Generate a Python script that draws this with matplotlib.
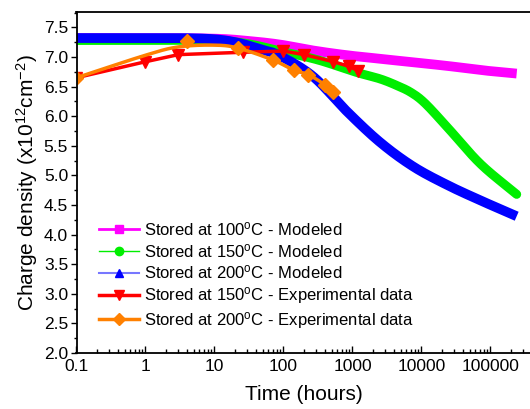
import numpy as np
import matplotlib
matplotlib.use("Agg")
import matplotlib.pyplot as plt
from matplotlib.lines import Line2D
from matplotlib.ticker import MultipleLocator, FixedLocator, LogLocator, NullFormatter

plt.rcParams['font.family'] = ['Liberation Sans', 'DejaVu Sans']
plt.rcParams['mathtext.fontset'] = 'custom'
plt.rcParams['mathtext.rm'] = 'Liberation Sans'
plt.rcParams['mathtext.it'] = 'Liberation Sans'

# modeled curves (log10 of time in hours, charge density)
mag_logt = [-1, 0, 1, 1.5, 1.95, 2.43, 2.92, 3.40, 3.88, 4.37, 4.85, 5.38]
mag_v = [7.32, 7.32, 7.31, 7.27, 7.21, 7.11, 7.03, 6.97, 6.91, 6.85, 6.78, 6.72]

grn_logt = [-1, 0, 1, 1.5, 1.95, 2.5, 3.06, 3.40, 3.64, 3.85, 4.05, 4.37, 4.85, 5.38]
grn_v = [7.28, 7.28, 7.28, 7.22, 7.10, 6.95, 6.74, 6.63, 6.52, 6.40, 6.22, 5.82, 5.20, 4.68]

blu_logt = [-1, 0, 0.5, 1, 1.34, 1.7, 1.95, 2.43, 2.92, 3.40, 3.88, 4.37, 4.85, 5.38]
blu_v = [7.32, 7.32, 7.32, 7.30, 7.24, 7.12, 7.02, 6.67, 6.08, 5.56, 5.15, 4.84, 4.58, 4.31]

# experimental data
red_t = [0.1, 1, 3, 26, 100, 200, 530, 900, 1200]
red_v = [6.65, 6.92, 7.04, 7.08, 7.10, 7.04, 6.92, 6.84, 6.77]

org_t = [0.1, 4, 22, 70, 140, 230, 400, 530]
org_v = [6.65, 7.27, 7.15, 6.95, 6.78, 6.70, 6.53, 6.41]
# smoothed line through the 200C data
org_line_t = [0.1, 1, 3, 10, 22, 70, 140, 230, 400, 530]
org_line_v = [6.65, 7.03, 7.17, 7.20, 7.15, 6.95, 6.78, 6.70, 6.53, 6.41]

labels = ["Stored at 100$^{o}$C - Modeled",
          "Stored at 150$^{o}$C - Modeled",
          "Stored at 200$^{o}$C - Modeled",
          "Stored at 150$^{o}$C - Experimental data",
          "Stored at 200$^{o}$C - Experimental data"]

# catmull-rom curve through the read points, drawn in log-time
def smooth(logt, v, n=30):
    p = np.column_stack([logt, v]).astype(float)
    p = np.vstack([2 * p[0] - p[1], p, 2 * p[-1] - p[-2]])
    out = []
    s = np.linspace(0, 1, n, endpoint=False)[:, None]
    for i in range(1, len(p) - 2):
        p0, p1, p2, p3 = p[i - 1], p[i], p[i + 1], p[i + 2]
        out.append(0.5 * (2 * p1 + (-p0 + p2) * s + (2 * p0 - 5 * p1 + 4 * p2 - p3) * s ** 2
                          + (-p0 + 3 * p1 - 3 * p2 + p3) * s ** 3))
    out.append(p[-2][None, :])
    out = np.vstack(out)
    return 10 ** out[:, 0], out[:, 1]

fig = plt.figure(figsize=(5.3, 4.09), dpi=100)
ax = fig.add_axes([76.5 / 530, 56 / 409, 455.5 / 530, 341 / 409])

t, v = smooth(mag_logt, mag_v)
ax.plot(t, v, color='#ff00ff', lw=7, solid_capstyle='butt')
t, v = smooth(grn_logt, grn_v)
ax.plot(t, v, color='#00ee00', lw=6.5, solid_capstyle='round')
t, v = smooth(blu_logt, blu_v)
ax.plot(t, v, color='#0000ff', lw=7, solid_capstyle='butt')

ax.plot(red_t, red_v, color='#ff0000', lw=2.5, marker='v', ms=8)
t, v = smooth(list(np.log10(org_line_t)), org_line_v)
ax.plot(t, v, color='#ff8000', lw=2.5)
ax.plot(org_t, org_v, ls='none', color='#ff8000', marker='D', ms=7)

ax.set_xscale('log')
ax.set_xlim(0.1, 4e5)
ax.set_ylim(2.0, 7.76)

ax.yaxis.set_major_locator(MultipleLocator(0.5))
ax.yaxis.set_minor_locator(MultipleLocator(0.25))
ax.yaxis.set_major_formatter(matplotlib.ticker.FormatStrFormatter('%.1f'))

ax.xaxis.set_major_locator(FixedLocator([0.1, 1, 10, 100, 1000, 10000, 100000]))
ax.xaxis.set_major_formatter(matplotlib.ticker.FixedFormatter(
    ['0.1', '1', '10', '100', '1000', '10000', '100000']))
ax.xaxis.set_minor_locator(LogLocator(base=10, subs=np.arange(2, 10), numticks=20))
ax.xaxis.set_minor_formatter(NullFormatter())

ax.tick_params(axis='y', which='major', direction='out', length=4, width=1, labelsize=12.5, pad=2)
ax.tick_params(axis='y', which='minor', direction='out', length=2.5, width=1)
ax.tick_params(axis='x', which='major', direction='in', length=5, width=1, labelsize=12.5, pad=4)
ax.tick_params(axis='x', which='minor', direction='in', length=3, width=1)
ax.spines['right'].set_visible(False)
for s in ax.spines.values():
    s.set_linewidth(1.3)

ax.set_xlabel('Time (hours)', fontsize=15, labelpad=8)
ax.set_ylabel('Charge density (x10$^{12}$cm$^{-2}$)', fontsize=15, labelpad=3)

handles = [
    Line2D([], [], color='#ff00ff', lw=2, marker='s', ms=6),
    Line2D([], [], color='#00ee00', lw=1, marker='o', ms=6),
    Line2D([], [], color='#7777ff', lw=1.5, marker='^', ms=6, mfc='#0000ff', mec='#0000ff'),
    Line2D([], [], color='#ff0000', lw=2.5, marker='v', ms=7),
    Line2D([], [], color='#ff8000', lw=2.5, marker='D', ms=6),
]
ax.legend(handles, labels, loc='lower left', bbox_to_anchor=(0.035, 0.045),
          frameon=False, fontsize=12, handlelength=2.4, handletextpad=0.3,
          labelspacing=0.22, borderaxespad=0)

fig.savefig('out.png', dpi=100)
